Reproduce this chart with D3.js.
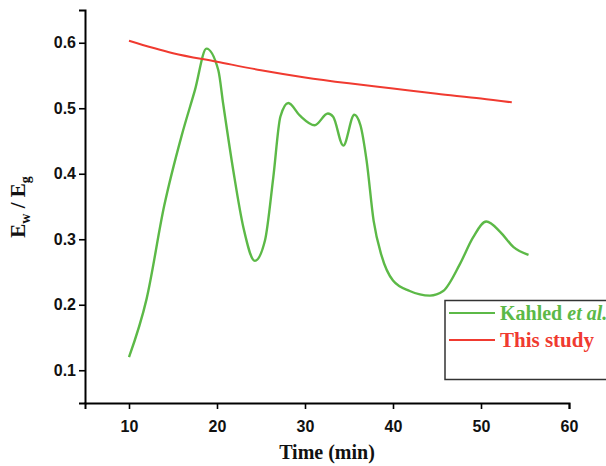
<!DOCTYPE html>
<html>
<head>
<meta charset="utf-8">
<script src="https://cdn.jsdelivr.net/npm/d3@7"></script>
<style>
html,body{margin:0;padding:0;background:#fff;}
svg{display:block;font-family:"Liberation Serif","Times New Roman",serif;}
</style>
</head>
<body>
<svg id="chart" width="606" height="466"></svg>
<script>
// Data
const greenTime  = [10,12,14,16,17.5,18.8,20.15,20.7,21.85,23.0,24.3,25.45,26.4,27.2,28.1,29.4,31.1,32.6,33.2,34.35,35.6,36.3,37.0,37.8,38.7,40.0,41.9,44.2,45.7,47.6,49.1,50.6,52.2,53.7,55.4];
const greenValue = [0.120,0.209,0.351,0.459,0.528,0.591,0.558,0.507,0.405,0.318,0.267,0.298,0.395,0.487,0.508,0.489,0.474,0.492,0.487,0.443,0.490,0.474,0.420,0.328,0.275,0.237,0.221,0.214,0.221,0.262,0.303,0.327,0.311,0.288,0.276];
const redTime  = [10,15,20,25,30,35,40,45,50,53.5];
const redValue = [0.603,0.584,0.571,0.558,0.547,0.538,0.530,0.522,0.515,0.509];
const xTicks = [10,20,30,40,50,60];
const yTicks = [0.1,0.2,0.3,0.4,0.5,0.6];
const seriesNames = ["Kahled", "This study"];
const green = "#5cb947", red = "#f03a30";

const svg = d3.select("#chart");
const x = d3.scaleLinear().domain([5,60]).range([85,569]);
const y = d3.scaleLinear().domain([0.05,0.65]).range([403,10]);

// X axis
const xAxis = svg.append("g").attr("transform","translate(0,403)");
xAxis.call(d3.axisBottom(x).tickValues(d3.range(5,61,5)).tickSize(4).tickFormat(""));
xAxis.call(d3.axisBottom(x).tickValues(xTicks).tickSize(6).tickFormat(d3.format("d")));
xAxis.selectAll("path.domain").attr("stroke","#000").attr("stroke-width",2);
xAxis.selectAll("line").attr("stroke","#000").attr("stroke-width",1.6);
xAxis.selectAll("text").attr("font-size",16).attr("font-weight","bold").attr("fill","#111").attr("dy","1.25em");

// Y axis
const yAxis = svg.append("g").attr("transform","translate(85,0)");
yAxis.call(d3.axisLeft(y).tickValues(d3.range(0.05,0.66,0.05)).tickSize(4).tickFormat(""));
yAxis.call(d3.axisLeft(y).tickValues(yTicks).tickSize(6).tickFormat(d3.format(".1f")));
yAxis.selectAll("path.domain").attr("stroke","#000").attr("stroke-width",2);
yAxis.selectAll("line").attr("stroke","#000").attr("stroke-width",1.6);
yAxis.selectAll("text").attr("font-size",16).attr("font-weight","bold").attr("fill","#111").attr("x",-9);

// Titles
svg.append("text").attr("x",327).attr("y",459).attr("text-anchor","middle")
  .attr("font-size",20).attr("font-weight","bold").attr("fill","#111").text("Time (min)");
const yt = svg.append("text").attr("transform","translate(25,207) rotate(-90)")
  .attr("text-anchor","middle").attr("font-size",21).attr("font-weight","bold").attr("fill","#111");
yt.append("tspan").text("E");
yt.append("tspan").attr("font-size",14).attr("dy",5).text("w");
yt.append("tspan").attr("dy",-5).text(" / E");
yt.append("tspan").attr("font-size",14).attr("dy",5).text("g");

// Lines
const gline = d3.line().x(d=>x(d[0])).y(d=>y(d[1])).curve(d3.curveMonotoneX);
const rline = d3.line().x(d=>x(d[0])).y(d=>y(d[1])).curve(d3.curveMonotoneX);
svg.append("path").datum(greenTime.map((t,i)=>[t,greenValue[i]]))
  .attr("d",gline).attr("fill","none").attr("stroke",green).attr("stroke-width",2.4);
svg.append("path").datum(redTime.map((t,i)=>[t,redValue[i]]))
  .attr("d",rline).attr("fill","none").attr("stroke",red).attr("stroke-width",2);

// Legend
const lg = svg.append("g");
lg.append("rect").attr("x",445).attr("y",300.5).attr("width",200).attr("height",79)
  .attr("fill","#fff").attr("stroke","#333").attr("stroke-width",1.5);
lg.append("line").attr("x1",449).attr("x2",495).attr("y1",313).attr("y2",313).attr("stroke",green).attr("stroke-width",2);
lg.append("line").attr("x1",449).attr("x2",495).attr("y1",340).attr("y2",340).attr("stroke",red).attr("stroke-width",2);
const t1 = lg.append("text").attr("x",500).attr("y",320).attr("font-size",20).attr("font-weight","bold").attr("fill",green);
t1.append("tspan").text(seriesNames[0] + " ");
t1.append("tspan").attr("font-style","italic").text("et al.");
lg.append("text").attr("x",500).attr("y",347).attr("font-size",21).attr("font-weight","bold").attr("fill",red).text(seriesNames[1]);
</script>
</body>
</html>
